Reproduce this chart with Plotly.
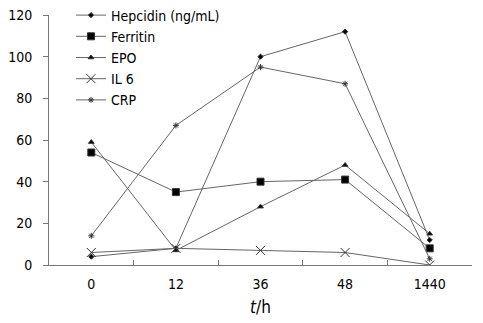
import plotly.graph_objects as go

categories = ["0", "12", "36", "48", "1440"]
hepcidin = [4, 8, 100, 112, 12]
ferritin = [54, 35, 40, 41, 8]
epo = [59, 7, 28, 48, 15]
il6 = [6, 8, 7, 6, 0]
crp = [14, 67, 95, 87, 3]

series = [
    ("Hepcidin (ng/mL)", hepcidin, "diamond", 4),
    ("Ferritin", ferritin, "square", 7),
    ("EPO", epo, "triangle-up", 5),
    ("IL 6", il6, "x-thin", 9),
    ("CRP", crp, "asterisk", 5),
]

fig = go.Figure()
for name, vals, sym, size in series:
    fig.add_trace(go.Scatter(
        x=categories, y=vals, name=name, mode="lines+markers",
        line=dict(color="#666666", width=1),
        marker=dict(symbol=sym, size=size, color="black",
                    line=dict(color="#333333", width=1)),
    ))

fig.update_layout(
    width=483, height=323,
    margin=dict(l=49, r=11, t=15, b=58, autoexpand=False),
    paper_bgcolor="white", plot_bgcolor="white",
    font=dict(family="DejaVu Sans Condensed, DejaVu Sans", size=14, color="black"),
    showlegend=True,
    legend=dict(x=0.052, y=1.062, xanchor="left", yanchor="top",
                bgcolor="rgba(0,0,0,0)", font=dict(size=14),
                itemwidth=30, tracegroupgap=0),
    xaxis=dict(type="category", range=[-0.5, 4.5], showgrid=False,
               showline=True, linecolor="#777777", linewidth=1,
               ticks="inside", tickson="boundaries", ticklen=5,
               tickcolor="#777777", ticklabelstandoff=6,
               title=dict(text="<i>t</i>/h", standoff=10)),
    yaxis=dict(range=[0, 120], dtick=20, showgrid=False, zeroline=False,
               showline=True, linecolor="#777777", linewidth=1,
               ticks="outside", ticklen=5, tickcolor="#777777",
               ticklabelstandoff=8),
)

# remove the default 8px body margin so the figure sits at the page origin
fig.write_html("out.html", config={"displayModeBar": False},
               post_script="document.body.style.margin='0';")
